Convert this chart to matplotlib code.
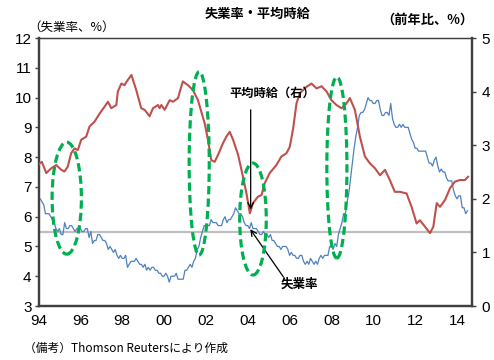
import matplotlib
matplotlib.use("Agg")
import matplotlib.pyplot as plt
from matplotlib.patches import Ellipse
from matplotlib import font_manager
import numpy as np

# ---------------- data ----------------
# US unemployment rate (%), monthly Jan-1994 .. Jul-2014 (left axis)
unemp_start = 1994
unemployment = [
    6.6, 6.6, 6.5, 6.4, 6.1, 6.1, 6.1, 6.0, 5.9, 5.8, 5.6, 5.5,   # 1994
    5.6, 5.4, 5.4, 5.8, 5.6, 5.6, 5.7, 5.7, 5.6, 5.5, 5.6, 5.6,   # 1995
    5.6, 5.5, 5.5, 5.6, 5.6, 5.3, 5.5, 5.1, 5.2, 5.2, 5.4, 5.4,   # 1996
    5.3, 5.2, 5.2, 5.1, 4.9, 5.0, 4.9, 4.8, 4.9, 4.7, 4.6, 4.7,   # 1997
    4.6, 4.6, 4.7, 4.3, 4.4, 4.5, 4.5, 4.5, 4.6, 4.5, 4.4, 4.4,   # 1998
    4.3, 4.4, 4.2, 4.3, 4.2, 4.3, 4.3, 4.2, 4.2, 4.1, 4.1, 4.0,   # 1999
    4.0, 4.1, 4.0, 3.8, 4.0, 4.0, 4.0, 4.1, 3.9, 3.9, 3.9, 3.9,   # 2000
    4.2, 4.2, 4.3, 4.4, 4.3, 4.5, 4.6, 4.9, 5.0, 5.3, 5.5, 5.7,   # 2001
    5.7, 5.7, 5.7, 5.9, 5.8, 5.8, 5.8, 5.7, 5.7, 5.7, 5.9, 6.0,   # 2002
    5.8, 5.9, 5.9, 6.0, 6.1, 6.3, 6.2, 6.1, 6.1, 6.0, 5.8, 5.7,   # 2003
    5.7, 5.6, 5.8, 5.6, 5.6, 5.6, 5.5, 5.4, 5.4, 5.5, 5.4, 5.4,   # 2004
    5.3, 5.4, 5.2, 5.2, 5.1, 5.0, 5.0, 4.9, 5.0, 5.0, 5.0, 4.9,   # 2005
    4.7, 4.8, 4.7, 4.7, 4.6, 4.6, 4.7, 4.7, 4.5, 4.4, 4.5, 4.4,   # 2006
    4.6, 4.5, 4.4, 4.5, 4.4, 4.6, 4.7, 4.6, 4.7, 4.7, 4.7, 5.0,   # 2007
    5.0, 4.9, 5.1, 5.0, 5.4, 5.6, 5.8, 6.1, 6.1, 6.5, 6.8, 7.3,   # 2008
    7.8, 8.3, 8.7, 9.0, 9.4, 9.5, 9.5, 9.6, 9.8, 10.0, 9.9, 9.9,  # 2009
    9.8, 9.8, 9.9, 9.9, 9.6, 9.4, 9.4, 9.5, 9.5, 9.4, 9.8, 9.3,   # 2010
    9.1, 9.0, 9.0, 9.1, 9.0, 9.1, 9.0, 9.0, 9.0, 8.8, 8.6, 8.5,   # 2011
    8.3, 8.3, 8.2, 8.2, 8.2, 8.2, 8.2, 8.0, 7.8, 7.8, 7.7, 7.9,   # 2012
    8.0, 7.7, 7.5, 7.6, 7.5, 7.5, 7.3, 7.2, 7.2, 7.2, 6.9, 6.7,   # 2013
    6.6, 6.7, 6.7, 6.3, 6.3, 6.1, 6.2,                            # 2014
]

# Average hourly earnings, % change y/y (right axis)
wage_dates = [
    1994.00, 1994.05, 1994.16, 1994.37, 1994.61, 1994.85, 1995.09, 1995.24,
    1995.40, 1995.56, 1995.72, 1995.88, 1996.04, 1996.28, 1996.44, 1996.68,
    1996.92, 1997.16, 1997.32, 1997.48, 1997.72, 1997.79, 1997.96, 1998.11,
    1998.20, 1998.44, 1998.67, 1998.91, 1999.07, 1999.31, 1999.47, 1999.71,
    1999.79, 1999.87, 2000.03, 2000.27, 2000.43, 2000.67, 2000.79, 2000.90,
    2001.14, 2001.38, 2001.62, 2001.94, 2002.10, 2002.26, 2002.42, 2002.58,
    2002.82, 2002.98, 2003.14, 2003.30, 2003.54, 2003.70, 2003.94, 2004.10,
    2004.25, 2004.49, 2004.66, 2004.81, 2005.05, 2005.37, 2005.61, 2005.85,
    2006.01, 2006.17, 2006.33, 2006.49, 2006.81, 2007.05, 2007.29, 2007.53,
    2007.77, 2008.00, 2008.24, 2008.48, 2008.72, 2008.88, 2009.12, 2009.36,
    2009.60, 2009.84, 2010.08, 2010.32, 2010.56, 2010.79, 2011.03, 2011.27,
    2011.59, 2011.83, 2012.07, 2012.23, 2012.47, 2012.71, 2012.87, 2013.03,
    2013.19, 2013.43, 2013.67, 2013.90, 2014.14, 2014.38, 2014.53,
]
wage_growth = [
    2.63, 2.66, 2.69, 2.48, 2.57, 2.63, 2.54, 2.51,
    2.60, 2.85, 2.94, 2.91, 3.10, 3.16, 3.35, 3.44,
    3.59, 3.72, 3.81, 3.69, 3.75, 4.00, 4.15, 4.12,
    4.18, 4.31, 4.03, 3.69, 3.66, 3.54, 3.69, 3.75,
    3.69, 3.75, 3.66, 3.84, 3.81, 3.88, 4.05, 4.19,
    4.12, 4.03, 3.84, 3.41, 3.10, 2.72, 2.69, 2.82,
    3.04, 3.16, 3.25, 3.10, 2.82, 2.54, 2.10, 1.73,
    1.92, 2.04, 2.07, 2.29, 2.48, 2.63, 2.79, 2.85,
    2.97, 3.31, 3.78, 3.97, 4.09, 4.15, 4.06, 4.10,
    4.00, 3.84, 3.75, 3.69, 3.78, 3.88, 3.66, 3.16,
    2.79, 2.66, 2.57, 2.44, 2.54, 2.35, 2.13, 2.13,
    2.10, 1.85, 1.54, 1.60, 1.48, 1.36, 1.48, 1.92,
    1.85, 1.98, 2.20, 2.32, 2.35, 2.35, 2.41,
]

reference_level = 5.5          # horizontal reference line (left axis)

# highlighted periods: (centre year, centre unemployment-scale value, width yrs, height)
highlight_centres = [1995.35, 2001.68, 2004.25, 2008.26]
highlight_levels = [6.62, 7.79, 5.92, 7.65]
highlight_widths = [1.40, 0.96, 1.27, 0.96]
highlight_heights = [3.76, 6.15, 3.76, 6.08]

x_ticks = list(range(1994, 2015, 2))
x_tick_labels = [f"{y % 100:02d}" for y in x_ticks]
left_ticks = list(range(3, 13))
right_ticks = list(range(0, 6))

# ---------------- fonts ----------------
names = {f.name for f in font_manager.fontManager.ttflist}
num_font = "Liberation Sans Narrow" if "Liberation Sans Narrow" in names else "Liberation Sans"
jp = ["Noto Sans CJK JP", "DejaVu Sans"]
plt.rcParams["font.family"] = jp

BLUE = "#4F81BD"
RED = "#C0504D"
GREEN = "#00B050"
SPINE = "#404040"

fig = plt.figure(figsize=(4.94, 3.60), dpi=100)
W, H = 494, 360
ax1 = fig.add_axes([38.5 / W, 1 - 306 / H, (472 - 38.5) / W, (306 - 38) / H])
ax2 = ax1.twinx()

months = np.arange(len(unemployment))
unemp_x = unemp_start + months / 12.0

ax1.axhline(reference_level, color="#BFBFBF", lw=1.6, zorder=1)
ax1.plot(unemp_x, unemployment, color=BLUE, lw=0.9, zorder=3)
ax2.plot(wage_dates, wage_growth, color=RED, lw=1.5, zorder=3)

ax1.set_xlim(1994.0, 1994.0 + (472 - 39) / 20.9)
ax1.set_ylim(3, 12)
ax2.set_ylim(0, 5)

# ellipses drawn on ax2 using the left-axis scale
def to_right(v):
    return (v - 3) * 5.0 / 9.0

for cx, cy, w, h in zip(highlight_centres, highlight_levels, highlight_widths, highlight_heights):
    e = Ellipse((cx, cy), w, h, transform=ax1.transData, fill=False,
                edgecolor=GREEN, lw=2.3, linestyle=(0, (2.6, 1.3)), zorder=5)
    ax2.add_patch(e)

# annotations
ax2.annotate("", xy=(2004.14, 1.80), xytext=(2004.14, 3.66),
             arrowprops=dict(arrowstyle="->", color="black", lw=0.9,
                             shrinkA=0, shrinkB=0), zorder=6)
ax2.text(2005.15, 3.96, "平均時給（右）", ha="center", va="center",
         fontsize=8.8, fontweight="bold", zorder=6)

ax1.annotate("", xy=(2004.12, 5.58), xytext=(2005.70, 3.98),
             arrowprops=dict(arrowstyle="->", color="black", lw=0.9,
                             shrinkA=0, shrinkB=0), zorder=6)
ax1.text(2006.45, 3.73, "失業率", ha="center", va="center",
         fontsize=9, fontweight="bold", zorder=6)

# ticks
ax1.set_xticks(x_ticks)
ax1.set_xticklabels(x_tick_labels, fontfamily=num_font, fontsize=11)
ax1.set_yticks(left_ticks)
ax1.set_yticklabels([str(t) for t in left_ticks], fontfamily=num_font, fontsize=11)
ax2.set_yticks(right_ticks)
ax2.set_yticklabels([str(t) for t in right_ticks], fontfamily=num_font, fontsize=11)

ax1.tick_params(axis="x", length=0, pad=6, colors="black")
ax1.tick_params(axis="y", direction="out", length=3, width=1, color=SPINE, pad=2)
ax2.tick_params(axis="y", direction="out", length=3, width=1, color=SPINE, pad=4)

for ax in (ax1, ax2):
    for side in ("left", "bottom", "right"):
        ax.spines[side].set_color(SPINE)
        ax.spines[side].set_linewidth(1.6)
    ax.spines["top"].set_color(SPINE)
    ax.spines["top"].set_linewidth(0.9)

# titles and labels
fig.text(258 / W, 1 - 14 / H, "失業率・平均時給", ha="center", va="center",
         fontsize=9.5, fontweight="bold")
fig.text(28 / W, 1 - 27.5 / H, "（失業率、%）", ha="left", va="center", fontsize=9)
fig.text(473 / W, 1 - 20 / H, "（前年比、%）", ha="right", va="center",
         fontsize=9.5, fontweight="bold")
fig.text(24 / W, 1 - 348 / H, "（備考）Thomson Reutersにより作成", ha="left",
         va="center", fontsize=8.5)

fig.savefig("out.png", dpi=100)
